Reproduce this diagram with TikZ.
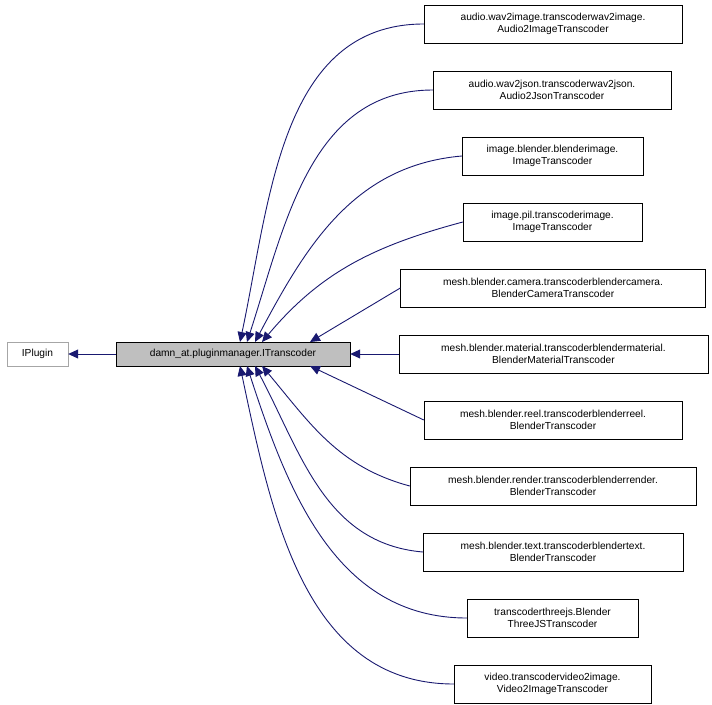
\documentclass[tikz,border=0pt]{standalone}
\usepackage{fontspec}
\setmainfont{Liberation Sans}
\usetikzlibrary{arrows.meta}
\definecolor{edgeblue}{HTML}{191970}
\begin{document}
\begin{tikzpicture}[x=1pt,y=-1pt,
  every node/.style={shape=rectangle,draw=black,fill=white,inner sep=0pt,align=center,font=\fontsize{10.2}{12}\selectfont},
  inh/.style={draw=edgeblue,line width=0.9pt,-{Triangle[length=10pt,width=9pt,fill=edgeblue]}}]
  \useasboundingbox (0,0) rectangle (712,704);
  \node[draw=gray!70,minimum width=61pt,minimum height=24pt] (plugin) at (37.5,354) {IPlugin};
  \node[fill=gray!50,minimum width=234pt,minimum height=24pt] (base) at (233,354) {damn\_at.pluginmanager.ITranscoder};
  \node[minimum width=258pt,minimum height=38pt] (c1) at (553,24) {audio.wav2image.transcoderwav2image.\\Audio2ImageTranscoder};
  \node[minimum width=238pt,minimum height=38pt] (c2) at (552,90) {audio.wav2json.transcoderwav2json.\\Audio2JsonTranscoder};
  \node[minimum width=181pt,minimum height=38pt] (c3) at (552.5,156) {image.blender.blenderimage.\\ImageTranscoder};
  \node[minimum width=179pt,minimum height=38pt] (c4) at (552.5,222) {image.pil.transcoderimage.\\ImageTranscoder};
  \node[minimum width=305pt,minimum height=38pt] (c5) at (553,288) {mesh.blender.camera.transcoderblendercamera.\\BlenderCameraTranscoder};
  \node[minimum width=309pt,minimum height=38pt] (c6) at (553.5,354) {mesh.blender.material.transcoderblendermaterial.\\BlenderMaterialTranscoder};
  \node[minimum width=258pt,minimum height=38pt] (c7) at (553,420) {mesh.blender.reel.transcoderblenderreel.\\BlenderTranscoder};
  \node[minimum width=286pt,minimum height=38pt] (c8) at (553,486) {mesh.blender.render.transcoderblenderrender.\\BlenderTranscoder};
  \node[minimum width=260pt,minimum height=38pt] (c9) at (553,552) {mesh.blender.text.transcoderblendertext.\\BlenderTranscoder};
  \node[minimum width=171pt,minimum height=38pt] (c10) at (552.5,618) {transcoderthreejs.Blender\\ThreeJSTranscoder};
  \node[minimum width=197pt,minimum height=38pt] (c11) at (552.5,684) {video.transcodervideo2image.\\Video2ImageTranscoder};
  \coordinate (t1) at (240,342);
  \coordinate (t2) at (247,342);
  \coordinate (t3) at (255,342);
  \coordinate (t4) at (262,342);
  \coordinate (t5) at (310,342);
  \coordinate (t7) at (310,366);
  \coordinate (t8) at (262,366);
  \coordinate (t9) at (255,366);
  \coordinate (t10) at (247,366);
  \coordinate (t11) at (240,366);
  \draw[inh] (base) -- (plugin);
  \draw[inh] (c1.west) to[out=180,in=78] (t1);
  \draw[inh] (c2.west) to[out=180,in=72] (t2);
  \draw[inh] (c3.west) to[out=185,in=62] (t3);
  \draw[inh] (c4.west) to[out=195,in=50] (t4);
  \draw[inh] (c5.west) -- (t5);
  \draw[inh] (c6.west) -- (base.east);
  \draw[inh] (c7.west) -- (t7);
  \draw[inh] (c8.west) to[out=165,in=-50] (t8);
  \draw[inh] (c9.west) to[out=175,in=-62] (t9);
  \draw[inh] (c10.west) to[out=180,in=-72] (t10);
  \draw[inh] (c11.west) to[out=180,in=-78] (t11);
\end{tikzpicture}
\end{document}
